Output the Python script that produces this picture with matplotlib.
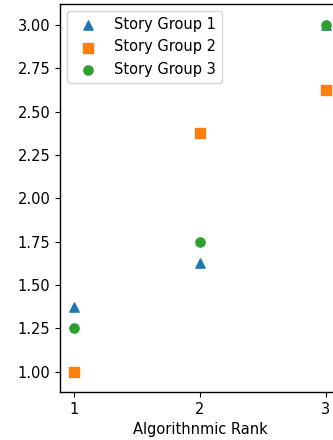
import matplotlib
matplotlib.use("Agg")
import matplotlib.pyplot as plt

ranks = [1, 2, 3]
group1 = [1.375, 1.625, 3.0]
group2 = [1.0, 2.375, 2.625]
group3 = [1.25, 1.75, 3.0]
labels = ["Story Group 1", "Story Group 2", "Story Group 3"]

plt.rcParams["font.size"] = 10.5
plt.rcParams["axes.linewidth"] = 1.0

fig = plt.figure(figsize=(3.33, 4.4), dpi=100)
ax = fig.add_axes([60 / 333, 48 / 440, 280 / 333, 388 / 440])

ax.scatter(ranks, group1, marker="^", s=44, color="#1f77b4", label=labels[0])
ax.scatter(ranks, group2, marker="s", s=44, color="#ff7f0e", label=labels[1])
ax.scatter(ranks, group3, marker="o", s=44, color="#2ca02c", label=labels[2])

ax.set_xlim(0.886, 3.114)
ax.set_ylim(0.883, 3.12)
ax.set_xticks([1, 2, 3])
ax.set_yticks([1.0, 1.25, 1.5, 1.75, 2.0, 2.25, 2.5, 2.75, 3.0])
ax.set_xlabel("Algorithnmic Rank")
ax.legend(loc="upper left")

fig.savefig("out.png", dpi=100)
